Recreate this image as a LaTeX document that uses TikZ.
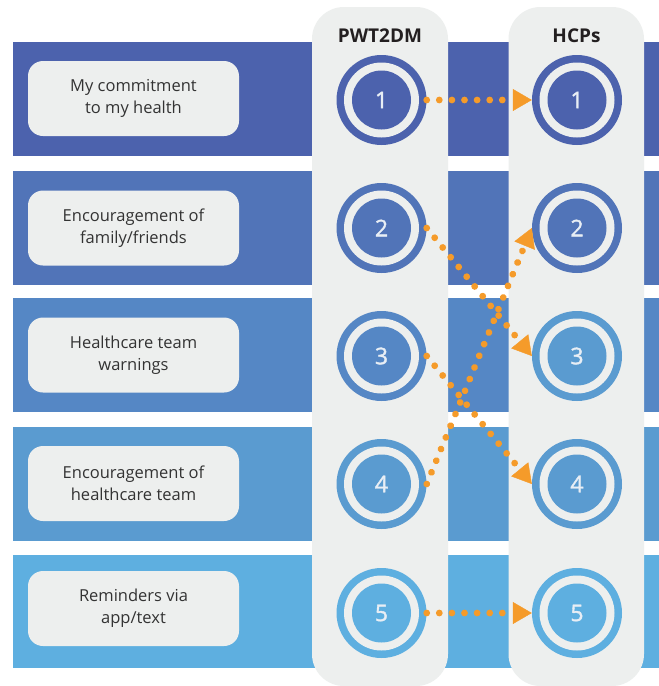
\documentclass[tikz,border=0pt]{standalone}
\usepackage{fontspec}
\setmainfont{Open Sans}
\newfontfamily\numfont[FakeBold=1.5]{Open Sans}
\usetikzlibrary{arrows.meta,decorations.markings}
\definecolor{bandA}{HTML}{4C62AD}
\definecolor{bandB}{HTML}{5174B8}
\definecolor{bandC}{HTML}{5587C5}
\definecolor{bandD}{HTML}{5A9BD0}
\definecolor{bandE}{HTML}{5EAFE0}
\definecolor{panel}{HTML}{EDEFEE}
\definecolor{labeltext}{HTML}{333333}
\definecolor{headtext}{HTML}{231F20}
\definecolor{numtext}{HTML}{E8EEF5}
\definecolor{arroworange}{HTML}{F59B2A}
\tikzset{
  band/.style={fill=#1, draw=none},
  column/.style={fill=panel, draw=none, rounded corners=32pt},
  labelbox/.style={fill=panel, draw=none, rounded corners=15pt, minimum width=211pt, minimum height=75pt, inner sep=0pt, align=center, text=labeltext, font=\fontsize{16.5}{22}\selectfont},
  header/.style={text=headtext, font=\fontsize{19}{22}\selectfont\bfseries},
  ring/.style={circle, minimum size=90pt, inner sep=0pt, fill=#1, text=numtext, font=\numfont\fontsize{23}{26}\selectfont,
    path picture={\fill[panel] (path picture bounding box.center) circle (37.5pt);
                  \fill[#1] (path picture bounding box.center) circle (29.5pt);}},
  dotarrow/.style={postaction={decorate}, decoration={markings,
    mark=between positions 0 and -20pt step 12.6pt with {\fill[arroworange] (0,0) circle (3.4pt);},
    mark=at position 1 with {\arrow[arroworange]{Triangle[length=19pt, width=22pt]}}}}
}
\begin{document}
\begin{tikzpicture}[x=1pt, y=-1pt]
\useasboundingbox (0,0) rectangle (659,686);
\fill[white] (0,0) rectangle (659,686);
% bands
\path[band=bandA] (13,42) rectangle (659,155.5);
\path[band=bandB] (13,171) rectangle (659,285);
\path[band=bandC] (13,298) rectangle (659,412);
\path[band=bandD] (13,427) rectangle (659,541);
\path[band=bandE] (13,555) rectangle (659,668);
% columns
\path[column] (312,7) rectangle (448,686);
\path[column] (508.5,7) rectangle (644,686);
\node[header] (hL) at (380,36) {PWT2DM};
\node[header] (hR) at (576.5,36) {HCPs};
% labels
\node[labelbox] (t1) at (133.5,98.5) {My commitment\\to my health};
\node[labelbox] (t2) at (133.5,228) {Encouragement of\\family/friends};
\node[labelbox] (t3) at (133.5,355) {Healthcare team\\warnings};
\node[labelbox] (t4) at (133.5,483.5) {Encouragement of\\healthcare team};
\node[labelbox] (t5) at (133.5,608.5) {Reminders via\\app/text};
% circles
\node[ring=bandA] (L1) at (381.5,100) {1};
\node[ring=bandB] (L2) at (381.5,228) {2};
\node[ring=bandC] (L3) at (381.5,356) {3};
\node[ring=bandD] (L4) at (381.5,484) {4};
\node[ring=bandE] (L5) at (381.5,613) {5};
\node[ring=bandA] (R1) at (577,100) {1};
\node[ring=bandB] (R2) at (577,228) {2};
\node[ring=bandD] (R3) at (577,356) {3};
\node[ring=bandD] (R4) at (577,484) {4};
\node[ring=bandE] (R5) at (577,613) {5};
% arrows
\path[dotarrow] (L1.east) -- (R1.west);
\path[dotarrow] (L2.east) -- (R3.west);
\path[dotarrow] (L3.east) -- (R4.west);
\path[dotarrow] (L4.east) -- (R2.west);
\path[dotarrow] (L5.east) -- (R5.west);
\end{tikzpicture}
\end{document}
